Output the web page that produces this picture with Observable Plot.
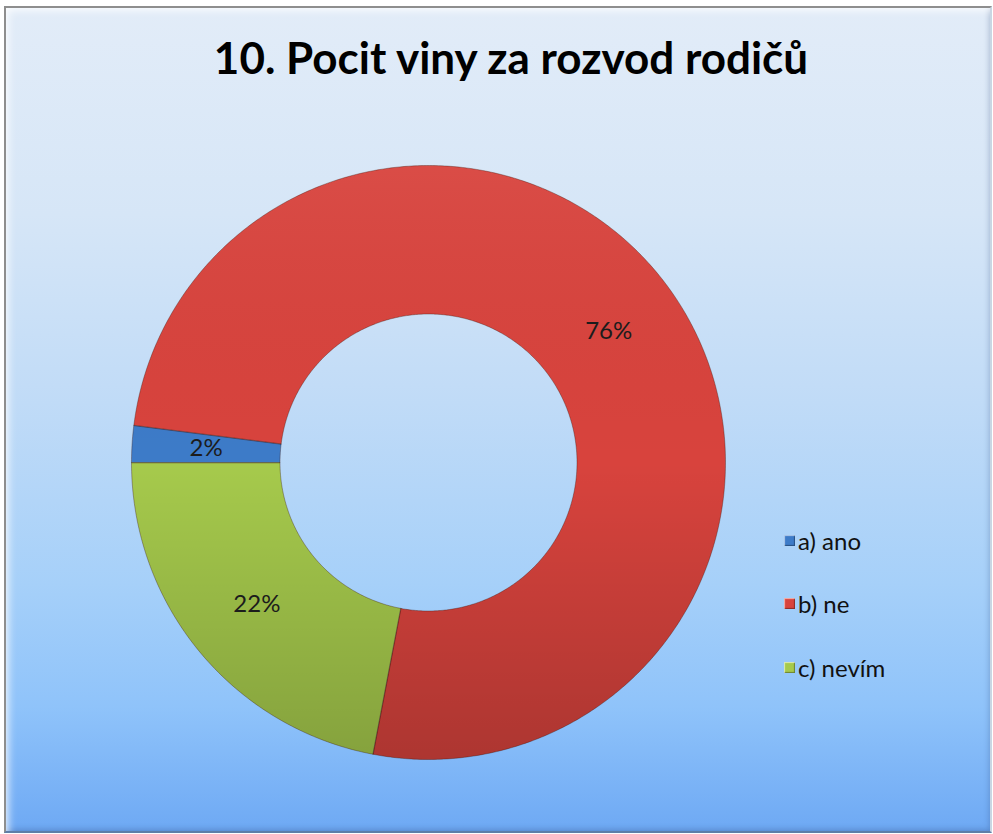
<!DOCTYPE html>
<html>
<head>
<meta charset="utf-8">
<script src="https://cdn.jsdelivr.net/npm/d3@7"></script>
<script src="https://cdn.jsdelivr.net/npm/@observablehq/plot@0.6"></script>
<style>
  html, body { margin: 0; padding: 0; background: #ffffff; }
  #wrap { position: relative; width: 993px; height: 834px; overflow: hidden; background: #fff; }
  #frame {
    position: absolute; left: 4px; top: 6px; width: 984px; height: 823px;
    border: 2px solid #8e8e8e; border-bottom-color: #5f7fa8; border-right-color: #c9d6e3;
    background: linear-gradient(to bottom, #e2ecf8 0%, #d6e6f7 25%, #c0dbf7 48%, #a6d0f9 70%, #8fc3fa 85%, #6ea9f4 100%);
    box-shadow: inset 6px 6px 8px -4px rgba(255,255,255,0.9), inset -3px -4px 6px -3px rgba(40,70,120,0.35);
  }
  #title {
    position: absolute; left: 0; top: 31px; width: 1022px; text-align: center;
    font-family: "Lato", sans-serif; font-weight: bold; font-size: 44px; color: #000;
  }
  #legend { position: absolute; left: 784px; top: 0; font-family: "Lato", sans-serif; font-size: 24px; color: #111; }
  .item { position: absolute; left: 0; white-space: nowrap; display: flex; align-items: center; }
  .sw { width: 11px; height: 11px; margin-right: 3px; box-shadow: inset 1px 1px 1px rgba(255,255,255,0.6), inset -1px -1px 1px rgba(0,0,0,0.35); }
  #plot { position: absolute; left: 0; top: 0; }
</style>
</head>
<body>
<div id="wrap">
  <div id="frame"></div>
  <div id="title">10. Pocit viny za rozvod rodičů</div>
  <div id="plot"></div>
  <div id="legend"></div>
</div>
<script>
const categories = ["a) ano", "b) ne", "c) nevím"];
const values = [2, 76, 22];
const labels = ["2%", "76%", "22%"];
const colors = ["#3d7bc8", "#d8433d", "#a6ca4c"];

const W = 993, H = 834;
const cx = 428, cy = 462, R = 297;   // layout
const inner = 0.5;                   // hole size 50%

const pie = d3.pie().sort(null).value(d => d.value)
  .startAngle(-Math.PI / 2).endAngle(1.5 * Math.PI);
const arcs = pie(categories.map((c, i) => ({key: c, value: values[i], label: labels[i]})));

// polygon outline for each slice, generated from the pie angles
const pts = [];
for (const a of arcs) {
  const n = Math.max(4, Math.ceil((a.endAngle - a.startAngle) / 0.01));
  for (let k = 0; k <= n; k++) {
    const t = a.startAngle + (a.endAngle - a.startAngle) * k / n;
    pts.push({key: a.data.key, x: Math.sin(t), y: Math.cos(t)});
  }
  for (let k = n; k >= 0; k--) {
    const t = a.startAngle + (a.endAngle - a.startAngle) * k / n;
    pts.push({key: a.data.key, x: inner * Math.sin(t), y: inner * Math.cos(t)});
  }
}
const mid = (1 + inner) / 2;
const textData = arcs.map(a => {
  const t = (a.startAngle + a.endAngle) / 2;
  return {x: mid * Math.sin(t), y: mid * Math.cos(t), text: a.data.label};
});

const chart = Plot.plot({
  width: W, height: H, margin: 0,
  x: {domain: [-cx / R, (W - cx) / R], axis: null},
  y: {domain: [-(H - cy) / R, cy / R], axis: null},
  color: {domain: categories, range: colors},
  style: {background: "transparent", overflow: "visible"},
  marks: [
    Plot.line(pts, {x: "x", y: "y", z: "key", fill: "key", stroke: "none", curve: "linear-closed",
      style: "filter: drop-shadow(0px 2px 3px rgba(0,0,0,0.35))"}),
    Plot.line(pts, {x: "x", y: "y", z: "key", fill: "url(#shade)", stroke: "rgba(60,20,10,0.35)", strokeWidth: 1, curve: "linear-closed"}),
    Plot.text(textData, {x: "x", y: "y", text: "text", fontSize: 24, fontFamily: "Lato", fill: "#1c1c1c"})
  ]
});

const y = chart.scale("y");
const ns = "http://www.w3.org/2000/svg";
const defs = document.createElementNS(ns, "defs");
const g = document.createElementNS(ns, "linearGradient");
g.setAttribute("id", "shade");
g.setAttribute("gradientUnits", "userSpaceOnUse");
g.setAttribute("x1", 0); g.setAttribute("x2", 0);
g.setAttribute("y1", y.apply(1)); g.setAttribute("y2", y.apply(-1));
[[0, "#ffffff", 0.05], [0.5, "#000000", 0.0], [1, "#000000", 0.2]].forEach(([o, c, op]) => {
  const s = document.createElementNS(ns, "stop");
  s.setAttribute("offset", o); s.setAttribute("stop-color", c); s.setAttribute("stop-opacity", op);
  g.appendChild(s);
});
defs.appendChild(g);
chart.insertBefore(defs, chart.firstChild);
document.getElementById("plot").appendChild(chart);

const legendTops = [540, 603, 667];
const legend = document.getElementById("legend");
categories.forEach((c, i) => {
  const it = document.createElement("div");
  it.className = "item";
  it.style.top = (legendTops[i] - 15) + "px";
  it.style.height = "30px";
  const sw = document.createElement("div");
  sw.className = "sw";
  sw.style.background = colors[i];
  const tx = document.createElement("span");
  tx.textContent = c;
  it.appendChild(sw); it.appendChild(tx);
  legend.appendChild(it);
});
</script>
</body>
</html>
